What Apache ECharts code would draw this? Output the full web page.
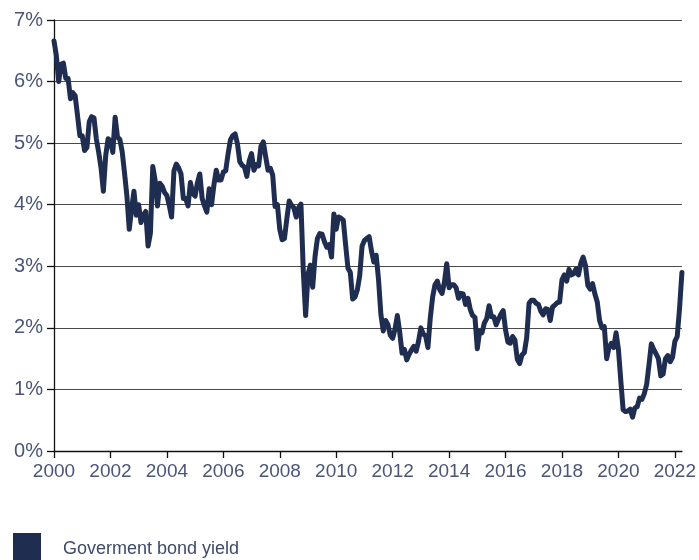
<!DOCTYPE html>
<html>
<head>
<meta charset="utf-8">
<script src="https://cdn.jsdelivr.net/npm/echarts@6/dist/echarts.min.js"></script>
<style>
html,body{margin:0;padding:0;background:#fff;}
#chart{width:699px;height:560px;}
</style>
</head>
<body>
<div id="chart"></div>
<script>
// Monthly month-end yields (%), Jan of each year through Dec
const startYear = 2000;
const y2000 = [6.66, 6.42, 6.00, 6.28, 6.30, 6.05, 6.05, 5.72, 5.82, 5.77, 5.45, 5.12];
const y2001 = [5.12, 4.88, 4.93, 5.35, 5.43, 5.41, 5.07, 4.85, 4.60, 4.22, 4.80, 5.07];
const y2002 = [5.04, 4.85, 5.42, 5.10, 5.06, 4.86, 4.51, 4.14, 3.60, 3.93, 4.22, 3.83];
const y2003 = [4.00, 3.71, 3.83, 3.89, 3.33, 3.54, 4.62, 4.40, 3.98, 4.35, 4.30, 4.20];
const y2004 = [4.15, 3.99, 3.80, 4.55, 4.66, 4.60, 4.50, 4.10, 4.10, 3.98, 4.36, 4.18];
const y2005 = [4.14, 4.36, 4.50, 4.10, 3.98, 3.88, 4.26, 4.00, 4.32, 4.56, 4.40, 4.40];
const y2006 = [4.53, 4.55, 4.82, 5.05, 5.12, 5.15, 4.99, 4.70, 4.64, 4.61, 4.46, 4.71];
const y2007 = [4.83, 4.56, 4.65, 4.63, 4.95, 5.02, 4.78, 4.56, 4.59, 4.48, 3.97, 4.00];
const y2008 = [3.60, 3.43, 3.45, 3.77, 4.06, 3.99, 3.95, 3.80, 3.95, 4.01, 2.93, 2.20];
const y2009 = [2.87, 3.02, 2.66, 3.16, 3.45, 3.53, 3.52, 3.40, 3.31, 3.35, 3.15, 3.85];
const y2010 = [3.60, 3.80, 3.78, 3.75, 3.35, 2.97, 2.90, 2.47, 2.50, 2.62, 2.85, 3.33];
const y2011 = [3.42, 3.45, 3.48, 3.25, 3.07, 3.18, 2.78, 2.22, 1.95, 2.12, 2.05, 1.88];
const y2012 = [1.83, 1.98, 2.20, 1.93, 1.59, 1.65, 1.48, 1.57, 1.64, 1.70, 1.62, 1.78];
const y2013 = [2.00, 1.90, 1.87, 1.68, 2.16, 2.50, 2.70, 2.76, 2.62, 2.56, 2.74, 3.04];
const y2014 = [2.65, 2.70, 2.70, 2.65, 2.48, 2.56, 2.55, 2.38, 2.48, 2.30, 2.20, 2.17];
const y2015 = [1.66, 1.95, 1.92, 2.08, 2.15, 2.36, 2.18, 2.18, 2.05, 2.14, 2.22, 2.28];
const y2016 = [1.97, 1.77, 1.75, 1.86, 1.80, 1.49, 1.42, 1.56, 1.60, 1.84, 2.40, 2.45];
const y2017 = [2.45, 2.40, 2.38, 2.27, 2.21, 2.31, 2.30, 2.12, 2.34, 2.37, 2.41, 2.42];
const y2018 = [2.78, 2.86, 2.76, 2.95, 2.86, 2.88, 2.96, 2.86, 3.05, 3.15, 3.01, 2.69];
const y2019 = [2.63, 2.72, 2.55, 2.42, 2.12, 2.00, 2.02, 1.50, 1.68, 1.75, 1.68, 1.92];
const y2020 = [1.65, 1.15, 0.67, 0.64, 0.65, 0.68, 0.55, 0.70, 0.72, 0.86, 0.84, 0.93];
const y2021 = [1.08, 1.40, 1.74, 1.65, 1.58, 1.50, 1.22, 1.25, 1.50, 1.55, 1.45, 1.52];
const y2022 = [1.78, 1.86, 2.32, 2.90];

const yields = [].concat(y2000, y2001, y2002, y2003, y2004, y2005, y2006, y2007, y2008,
  y2009, y2010, y2011, y2012, y2013, y2014, y2015, y2016, y2017, y2018, y2019,
  y2020, y2021, y2022);
const seriesName = 'Goverment bond yield';
const xTicks = [2000, 2002, 2004, 2006, 2008, 2010, 2012, 2014, 2016, 2018, 2020, 2022];
const yTicks = [0, 1, 2, 3, 4, 5, 6, 7];

const data = yields.map((v, i) => [startYear + i / 12, v]);
const lastX = startYear + (yields.length - 1) / 12;

const labelColor = '#4a5577';
const font = 'Liberation Sans, Arial, sans-serif';

const chart = echarts.init(document.getElementById('chart'), null, {renderer: 'canvas'});
chart.setOption({
  animation: false,
  backgroundColor: '#ffffff',
  grid: {left: 54, right: 699 - 54 - (lastX - 2000) * (623.3 / 22), top: 20, bottom: 109, containLabel: false},
  legend: {
    left: 8, top: 528, itemWidth: 28, itemHeight: 32, icon: 'rect',
    data: [seriesName],
    textStyle: {fontSize: 18, color: '#3f4a6b', fontFamily: font, padding: [0, 0, 0, 17]}
  },
  xAxis: {
    type: 'value', min: xTicks[0], max: lastX, interval: 2,
    axisLine: {show: true, lineStyle: {color: '#111', width: 1.3}},
    axisTick: {show: true, length: 7, lineStyle: {color: '#111', width: 1.3}},
    axisLabel: {
      color: labelColor, fontSize: 19, fontFamily: font, margin: 11,
      showMaxLabel: false,
      formatter: v => (xTicks.indexOf(Math.round(v)) >= 0 && Math.abs(v - Math.round(v)) < 1e-6) ? String(Math.round(v)) : ''
    },
    splitLine: {show: false}
  },
  yAxis: {
    type: 'value', min: yTicks[0], max: yTicks[yTicks.length - 1], interval: 1,
    axisLine: {show: true, lineStyle: {color: '#111', width: 1.3}},
    axisTick: {show: true, length: 7, lineStyle: {color: '#111', width: 1.3}},
    axisLabel: {color: labelColor, fontSize: 20, fontFamily: font, margin: 11, formatter: '{value}%'},
    splitLine: {show: true, lineStyle: {color: '#4a4a4a', width: 1.2}}
  },
  series: [{
    name: seriesName,
    type: 'line',
    data: data,
    showSymbol: false,
    symbol: 'none',
    smooth: false,
    color: '#1f2d50',
    lineStyle: {color: '#1f2d50', width: 5, join: 'round', cap: 'round'},
    itemStyle: {color: '#1f2d50'}
  }]
});
</script>
</body>
</html>
